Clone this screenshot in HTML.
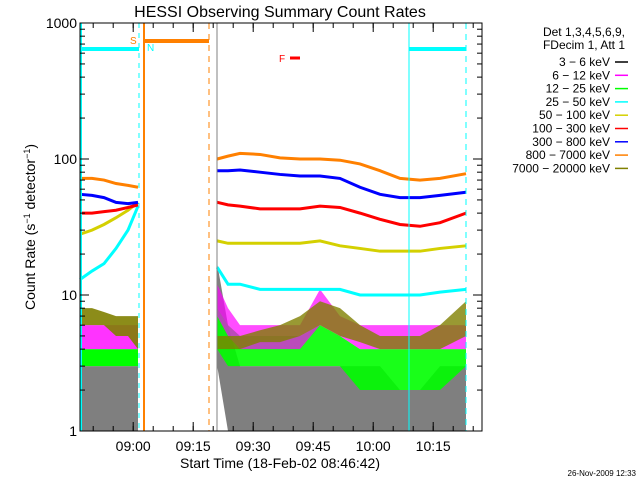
<!DOCTYPE html>
<html><head><meta charset="utf-8"><style>
body{margin:0;background:#fff}
svg{display:block;font-family:"Liberation Sans",sans-serif}
</style></head><body>
<svg id="chart" width="640" height="480" xmlns="http://www.w3.org/2000/svg">
<rect width="640" height="480" fill="#fff"/>
<text x="280" y="17" font-size="16" text-anchor="middle">HESSI Observing Summary Count Rates</text>
<g id="marks"></g>
<g id="axes"></g>
<text transform="translate(35,227) rotate(-90)" font-size="14" text-anchor="middle">Count Rate (s<tspan baseline-shift="super" font-size="9">−1</tspan> detector<tspan baseline-shift="super" font-size="9">−1</tspan>)</text>
<text x="280" y="468" font-size="14" text-anchor="middle">Start Time (18-Feb-02 08:46:42)</text>
<text x="636" y="476" font-size="8" text-anchor="end">26-Nov-2009 12:33</text>
<g id="legend"></g>
</svg>
<script>
const seg1Times=[0,3,6,9,12,14.5];
const seg2Times=[34.3,37,40,45,50,55,60,65,70,75,80,85,90,96.5];
const orange1=[72,72,70,66,64,62];
const blue1=[55,54,52,48,47,48];
const red1=[40,40,41,42,44,46];
const yellow1=[28,30,33,37,42,48];
const cyan1=[13,15,17,22,30,45];
const olive1Lo=[6,6,6,5,5,4], olive1Hi=[8,8,7.5,7,7,7];
const magenta1Lo=[4,4,4,4,4,4], magenta1Hi=[6,6,6,6,6,6];
const green1Lo=[3,3,3,3,3,3], green1Hi=[4,4,4,4,4,4];
const black1Lo=[1,1,1,1,1,1], black1Hi=[3,3,3,3,3,3];
const orange2=[100,105,110,108,102,100,100,98,92,82,72,70,72,78];
const blue2=[82,82,83,80,77,75,75,72,62,55,52,52,54,57];
const red2=[48,46,45,43,43,43,45,44,40,36,33,32,34,40];
const yellow2=[25,24,24,24,24,24,25,23,22,21,21,21,22,23];
const cyan2=[16,12,12,11,11,11,11,11,10,10,10,10,10.5,11];
const olive2Lo=[4,4,4,4.5,4.5,5,6,5,4.5,4,4,4,4,5], olive2Hi=[5,5,5,5.5,6,7,9,8,6,5,5,5,6,9];
const magenta2Lo=[7,5,4,4,4,4,6,5,4,4,4,4,4,4], magenta2Hi=[12,8,6,6,6,6,11,7,6,6,6,6,6,6];
const green2Lo=[4,3,3,3,3,3,3,3,2,2,2,2,2,3], green2Hi=[8,6,5,5,5,5,6,5,4,4,4,4,4,4];
const black2Lo=[3,1,1,1,1,1,1,1,1,1,1,1,1,1], black2Hi=[17,6,3,3,3,3,3,3,3,3,2,2,3,3];
const xTickLabels=["09:00","09:15","09:30","09:45","10:00","10:15"];
const xTickMinutes=[13.3,28.3,43.3,58.3,73.3,88.3];
const yTickValues=[1,10,100,1000];
const yTickLabels=["1","10","100","1000"];
const legendLabels=["3 − 6 keV","6 − 12 keV","12 − 25 keV","25 − 50 keV","50 − 100 keV","100 − 300 keV","300 − 800 keV","800 − 7000 keV","7000 − 20000 keV"];
const legendColors=["#000","#ff00ff","#00ff00","#00ffff","#d4d000","#ff0000","#0000ff","#ff8000","#808000"];

const X0=80,X1=482,Y0=431,Y1=23;
const xs=t=>X0+t*4;
const ys=v=>Y0-Math.log10(v)*136;
const NS="http://www.w3.org/2000/svg";
const marks=document.getElementById('marks'),axes=document.getElementById('axes'),legend=document.getElementById('legend');
function mk(tag,attrs,parent){const e=document.createElementNS(NS,tag);for(const k in attrs)e.setAttribute(k,attrs[k]);parent.appendChild(e);return e;}
function band(times,lo,hi,color,name,op){
  let pts=times.map((t,i)=>xs(t)+','+ys(hi[i]));
  for(let i=times.length-1;i>=0;i--)pts.push(xs(times[i])+','+ys(lo[i]));
  const p=mk('polygon',{points:pts.join(' '),fill:color,'fill-opacity':op},marks);
  
  
}
function line(times,vals,color,name){
  const p=mk('polyline',{points:times.map((t,i)=>xs(t)+','+ys(vals[i])).join(' '),fill:'none',stroke:color,'stroke-width':3},marks);
  
  
}
band(seg1Times,black1Lo,black1Hi,'#000','series-3-6kev-seg1',0.5);
band(seg2Times,black2Lo,black2Hi,'#000','series-3-6kev-seg2',0.5);
band(seg1Times,green1Lo,green1Hi,'#00ff00','series-12-25kev-seg1',1);
band(seg2Times,green2Lo,green2Hi,'#00ff00','series-12-25kev-seg2',0.9);
band(seg1Times,magenta1Lo,magenta1Hi,'#ff00ff','series-6-12kev-seg1',0.8);
band(seg2Times,magenta2Lo,magenta2Hi,'#ff00ff','series-6-12kev-seg2',0.7);
band(seg1Times,olive1Lo,olive1Hi,'#808000','series-7000-20000kev-seg1',0.9);
band(seg2Times,olive2Lo,olive2Hi,'#808000','series-7000-20000kev-seg2',0.8);
line(seg1Times,cyan1,'#00ffff','series-25-50kev-seg1');
line(seg2Times,cyan2,'#00ffff','series-25-50kev-seg2');
line(seg1Times,yellow1,'#d4d000','series-50-100kev-seg1');
line(seg2Times,yellow2,'#d4d000','series-50-100kev-seg2');
line(seg1Times,red1,'#ff0000','series-100-300kev-seg1');
line(seg2Times,red2,'#ff0000','series-100-300kev-seg2');
line(seg1Times,blue1,'#0000ff','series-300-800kev-seg1');
line(seg2Times,blue2,'#0000ff','series-300-800kev-seg2');
line(seg1Times,orange1,'#ff8000','series-800-7000kev-seg1');
line(seg2Times,orange2,'#ff8000','series-800-7000kev-seg2');

const ann=[[81,'#00ffff',''],[139,'#00ffff','5,5'],[144,'#ff8000',''],[209,'#ff8000','6,5'],[217,'#808080',''],[409,'#00ffff',''],[466,'#00ffff','6,5']];
ann.forEach(a=>{const l=mk('line',{x1:a[0],x2:a[0],y1:Y1,y2:Y0,stroke:a[1],'stroke-width':a[0]==144||a[0]==81?2:1,'stroke-dasharray':a[2]},marks);});
mk('line',{x1:81,x2:139,y1:49,y2:49,stroke:'#00ffff','stroke-width':4,},marks);
mk('line',{x1:409,x2:466,y1:49,y2:49,stroke:'#00ffff','stroke-width':4,},marks);
mk('line',{x1:144,x2:209,y1:41,y2:41,stroke:'#ff8000','stroke-width':4,},marks);
mk('line',{x1:290,x2:300,y1:58,y2:58,stroke:'#ff0000','stroke-width':3,},marks);
[[130,44,'S','#ff8000'],[147,51,'N','#00ffff'],[279,62,'F','#ff0000']].forEach(a=>{const t=mk('text',{x:a[0],y:a[1],fill:a[3],'font-size':10},marks);t.textContent=a[2];});

mk('rect',{x:X0,y:Y1,width:X1-X0,height:Y0-Y1,fill:'none',stroke:'#000','stroke-width':1,},axes);
yTickValues.forEach((v,i)=>{const y=ys(v);
  mk('line',{x1:X0,x2:X0+9,y1:y,y2:y,stroke:'#000'},axes);mk('line',{x1:X1-9,x2:X1,y1:y,y2:y,stroke:'#000'},axes);
  const t=mk('text',{x:X0-3,y:y+5,'font-size':14,'text-anchor':'end'},axes);t.textContent=yTickLabels[i];
  if(i<yTickValues.length-1)for(let m=2;m<10;m++){const ym=ys(v*m);mk('line',{x1:X0,x2:X0+5,y1:ym,y2:ym,stroke:'#000'},axes);mk('line',{x1:X1-5,x2:X1,y1:ym,y2:ym,stroke:'#000'},axes);}
});
for(let t=3.3;t<100.5;t+=5){const x=xs(t);mk('line',{x1:x,x2:x,y1:Y0,y2:Y0-5,stroke:'#000'},axes);mk('line',{x1:x,x2:x,y1:Y1,y2:Y1+5,stroke:'#000'},axes);}
xTickMinutes.forEach((t,i)=>{const x=xs(t);mk('line',{x1:x,x2:x,y1:Y0,y2:Y0-9,stroke:'#000'},axes);mk('line',{x1:x,x2:x,y1:Y1,y2:Y1+9,stroke:'#000'},axes);
  const l=mk('text',{x:x,y:451,'font-size':14,'text-anchor':'middle'},axes);l.textContent=xTickLabels[i];});

[["Det 1,3,4,5,6,9,",36],["FDecim 1, Att 1",49]].forEach(a=>{const t=mk('text',{x:625,y:a[1],'font-size':12,'text-anchor':'end'},legend);t.textContent=a[0];});
legendLabels.forEach((lab,i)=>{const y=62+i*13.3;
  const t=mk('text',{x:610,y:y+4,'font-size':12,'text-anchor':'end'},legend);t.textContent=lab;
  mk('line',{x1:615,x2:628,y1:y,y2:y,stroke:legendColors[i],'stroke-width':1.5},legend);});
</script>
</body></html>
